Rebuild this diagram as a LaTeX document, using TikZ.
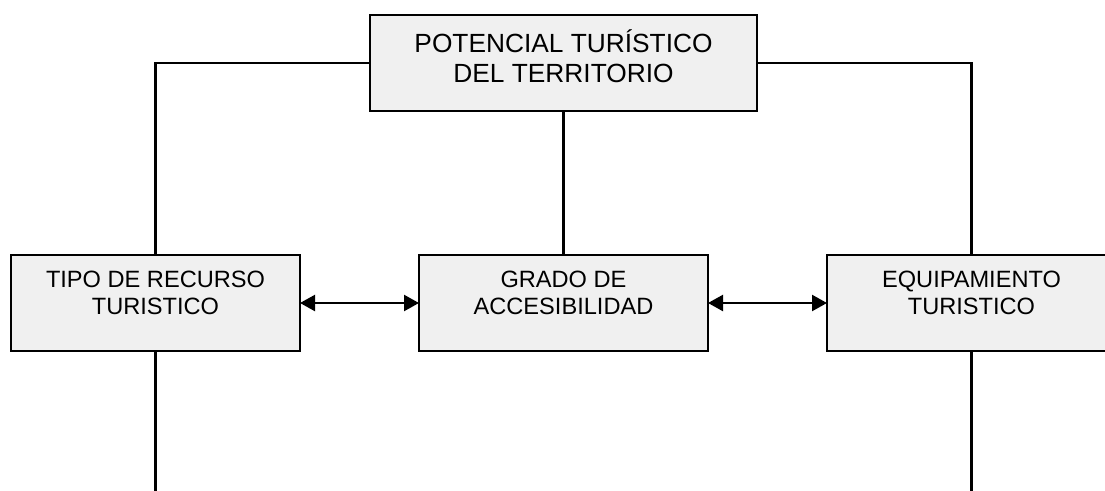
\documentclass[tikz,border=0pt]{standalone}
\usepackage{fontspec}
\setmainfont{Liberation Sans}
\usetikzlibrary{arrows.meta}
\definecolor{boxfill}{HTML}{F0F0F0}
\begin{document}
\begin{tikzpicture}[x=1pt,y=-1pt,
  box/.style={draw=black, fill=boxfill, line width=2.6pt, minimum width=289pt, minimum height=96pt, inner sep=0pt, outer sep=0pt},
  conn/.style={draw=black, line width=2.3pt},
  dbl/.style={conn, {Triangle[length=15pt,width=16pt]}-{Triangle[length=15pt,width=16pt]}},
  bigtxt/.style={anchor=base, inner sep=0pt, font=\fontsize{26.3}{30}\selectfont},
  txt/.style={anchor=base, inner sep=0pt, font=\fontsize{23.6}{27}\selectfont}]
  \fill[white] (0,0) rectangle (1105,490);
  \clip (0,0) rectangle (1105,490);
  \useasboundingbox (0,0) rectangle (1105,490);
  % coordinates for free ends
  \coordinate (lend) at (155.5,492);
  \coordinate (rend) at (971.5,492);
  % boxes
  \node[box, minimum width=387pt] (top) at (563.5,63) {};
  \node[box] (left) at (155.5,303) {};
  \node[box] (mid) at (563.5,303) {};
  \node[box] (right) at (971.5,303) {};
  % connectors
  \draw[conn] (top.west) -| (left.north);
  \draw[conn] (top.east) -| (right.north);
  \draw[conn] (top.south) -- (mid.north);
  \draw[conn] (left.south) -- (lend);
  \draw[conn] (right.south) -- (rend);
  \draw[dbl] (left.east) -- (mid.west);
  \draw[dbl] (mid.east) -- (right.west);
  % texts
  \node[bigtxt] (top1) at (563.5,52) {POTENCIAL TURÍSTICO};
  \node[bigtxt] (top2) at (563.5,82) {DEL TERRITORIO};
  \node[txt] (left1) at (155.5,287) {TIPO DE RECURSO};
  \node[txt] (left2) at (155.5,314) {TURISTICO};
  \node[txt] (mid1) at (563.5,287) {GRADO DE};
  \node[txt] (mid2) at (563.5,314) {ACCESIBILIDAD};
  \node[txt] (right1) at (971.5,287) {EQUIPAMIENTO};
  \node[txt] (right2) at (971.5,314) {TURISTICO};
\end{tikzpicture}
\end{document}
